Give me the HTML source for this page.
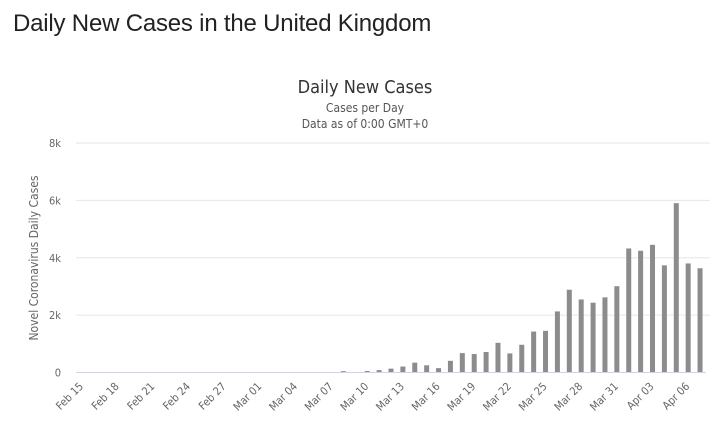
<!DOCTYPE html>
<html><head><meta charset="utf-8"><style>
body{margin:0;background:#fff;width:720px;height:424px;overflow:hidden;font-family:"Liberation Sans",sans-serif}
h1{position:absolute;left:13px;top:10px;margin:0;font-weight:normal;font-size:24px;color:#222;letter-spacing:-0.2px}
svg{position:absolute;left:0;top:0}
</style></head><body>
<h1>Daily New Cases in the United Kingdom</h1>
<svg id="chart" width="720" height="424"></svg>
<script>
const categories=["Feb 15","Feb 16","Feb 17","Feb 18","Feb 19","Feb 20","Feb 21","Feb 22","Feb 23","Feb 24","Feb 25","Feb 26","Feb 27","Feb 28","Feb 29","Mar 01","Mar 02","Mar 03","Mar 04","Mar 05","Mar 06","Mar 07","Mar 08","Mar 09","Mar 10","Mar 11","Mar 12","Mar 13","Mar 14","Mar 15","Mar 16","Mar 17","Mar 18","Mar 19","Mar 20","Mar 21","Mar 22","Mar 23","Mar 24","Mar 25","Mar 26","Mar 27","Mar 28","Mar 29","Mar 30","Mar 31","Apr 01","Apr 02","Apr 03","Apr 04","Apr 05","Apr 06","Apr 07"];
const cases=[0,0,0,0,0,0,0,0,0,0,0,0,0,0,0,0,0,0,0,0,0,0,46,0,52,83,134,208,342,251,152,407,676,643,714,1035,665,967,1427,1452,2129,2885,2546,2433,2619,3009,4324,4244,4450,3735,5903,3802,3634];
const yTicks=[0,2000,4000,6000,8000];
const yTickLabels=["0","2k","4k","6k","8k"];
const NS="http://www.w3.org/2000/svg";
const svg=document.getElementById('chart');
const L=76,R=706,T=143,B=372.5,yMax=8000;
const step=(R-L)/categories.length;
const xc=i=>L+(i+0.5)*step;
const y=v=>B-(v/yMax)*(B-T);
function mk(tag,a,txt){const e=document.createElementNS(NS,tag);for(const k in a)e.setAttribute(k,a[k]);if(txt!==undefined)e.textContent=txt;svg.appendChild(e);return e;}
let t=mk('text',{x:365,y:93,'text-anchor':'middle','font-size':18,fill:'#333','font-family':'DejaVu Sans Condensed, DejaVu Sans, sans-serif'},'Daily New Cases');


t=mk('text',{x:365,y:112,'text-anchor':'middle','font-size':12,fill:'#555','font-family':'DejaVu Sans Condensed, DejaVu Sans, sans-serif'},'Cases per Day');


t=mk('text',{x:365,y:128,'text-anchor':'middle','font-size':12,fill:'#555','font-family':'DejaVu Sans Condensed, DejaVu Sans, sans-serif'},'Data as of 0:00 GMT+0');


yTicks.forEach((v,i)=>{
  if(v>0){const g=mk('line',{x1:L,x2:710,y1:y(v),y2:y(v),stroke:'#e6e6e6','stroke-width':1});
  
  }
  const lb=mk('text',{x:61,y:y(v)+4,'text-anchor':'end','font-size':11,fill:'#666','font-family':'DejaVu Sans Condensed, DejaVu Sans, sans-serif'},yTickLabels[i]);
  
  
});
t=mk('text',{transform:'translate(38,258) rotate(-90)','text-anchor':'middle','font-size':12,fill:'#666','font-family':'DejaVu Sans Condensed, DejaVu Sans, sans-serif'},'Novel Coronavirus Daily Cases');


cases.forEach((v,i)=>{
  const h=B-y(v);
  if(h<=0)return;
  const b=mk('rect',{x:xc(i)-2.5,y:y(v),width:5,height:h,fill:'#8c8c8c'});
  
  
});
const ax=mk('line',{x1:L,x2:R,y1:B,y2:B,stroke:'#ccd6eb','stroke-width':1});


categories.forEach((c,i)=>{
  if(i%3!==0)return;
  const x=xc(i)+2,yy=387;
  const lb=mk('text',{x:x,y:yy,'text-anchor':'end','font-size':11,fill:'#666','font-family':'DejaVu Sans Condensed, DejaVu Sans, sans-serif',transform:`rotate(-45 ${x} ${yy})`},c);
  
  
});
</script>
</body></html>
